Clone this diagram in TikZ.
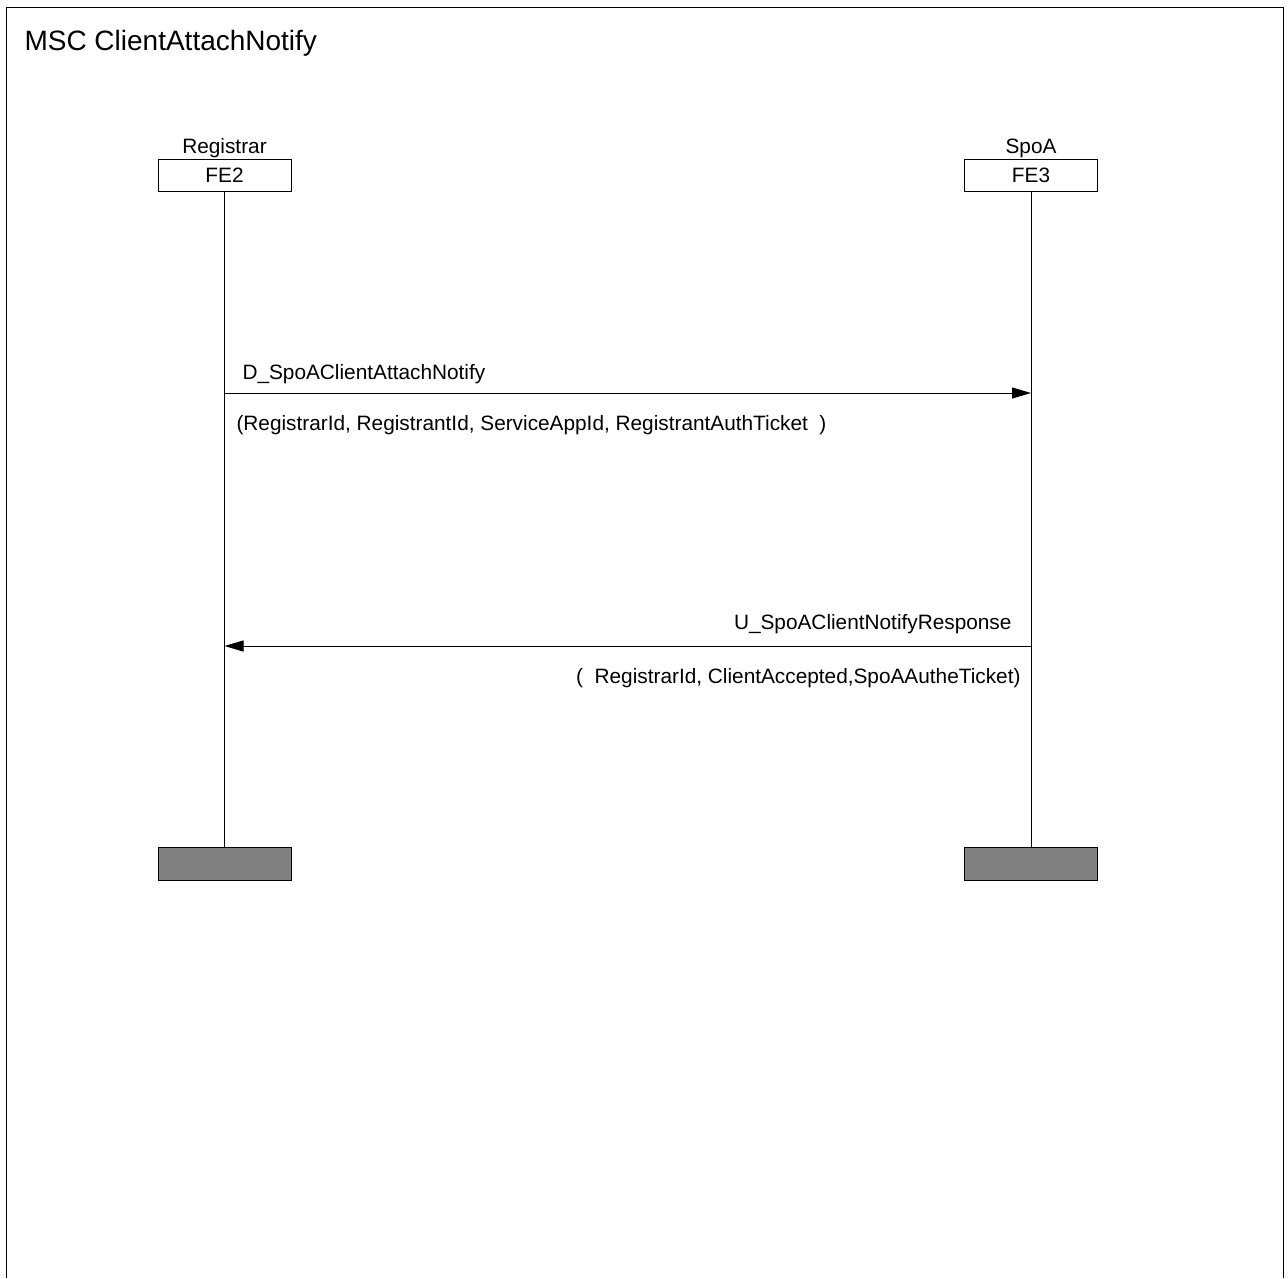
\documentclass[tikz,border=0pt]{standalone}
\usepackage{fontspec}
\setmainfont{Liberation Sans}
\usetikzlibrary{arrows.meta,positioning}
\tikzset{
  txt/.style={font=\fontsize{20.8}{25}\selectfont, inner sep=0pt},
  fe/.style={draw, txt, minimum width=133pt, minimum height=32pt},
  feend/.style={draw, fill=black!50, minimum width=133pt, minimum height=33pt, inner sep=0pt},
  msg/.style={-{Triangle[length=19pt,width=11pt]}},
}
\begin{document}
\begin{tikzpicture}[x=1pt,y=-1pt,line width=1pt]
    \useasboundingbox (0,0) rectangle (1288,1278);

    % Frame
    \draw (6,1278) -- (6,7) -- (1283,7) -- (1283,1278);
    \node[txt, font=\fontsize{28}{32}\selectfont, anchor=base west] (title) at (24,50) {MSC ClientAttachNotify};

    % Instances
    \node[fe] (fe2) at (224.5,175) {FE2};
    \node[fe] (fe3) at (1031,175) {FE3};
    \node[txt, anchor=base] (reg) at (224.5,153) {Registrar};
    \node[txt, anchor=base] (spoa) at (1031,153) {SpoA};
    \node[feend] (end2) at (224.5,864) {};
    \node[feend] (end3) at (1031,864) {};
    \draw (fe2) -- (end2);
    \draw (fe3) -- (end3);

    % Messages
    \coordinate (m1s) at (fe2 |- 0,393);
    \coordinate (m1e) at (fe3 |- 0,393);
    \draw[msg] (m1s) -- (m1e);
    \node[txt, anchor=base west] (m1lbl) at (242,379) {D\_SpoAClientAttachNotify};
    \node[txt, anchor=base west] (m1par) at (236,430) {(RegistrarId, RegistrantId, ServiceAppId, RegistrantAuthTicket\ \ )};

    \coordinate (m2s) at (fe3 |- 0,646);
    \coordinate (m2e) at (fe2 |- 0,646);
    \draw[msg] (m2s) -- (m2e);
    \node[txt, anchor=base east] (m2lbl) at (1012,629) {U\_SpoAClientNotifyResponse};
    \node[txt, anchor=base east] (m2par) at (1021,683) {(\ \ RegistrarId, ClientAccepted,SpoAAutheTicket)};
\end{tikzpicture}
\end{document}
